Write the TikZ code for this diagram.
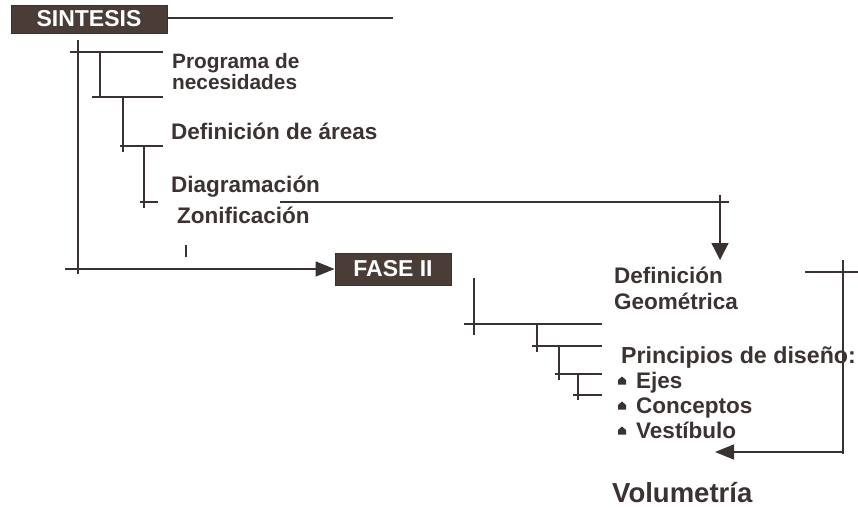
\documentclass[tikz,border=0pt]{standalone}
\usepackage{fontspec}
\usetikzlibrary{arrows.meta}
\newfontfamily\labfont{Liberation Sans}
\definecolor{lc}{HTML}{3A3131}
\definecolor{tc}{HTML}{3C3232}
\definecolor{bc}{HTML}{4A3C37}
\tikzset{
  ln/.style={draw=lc, line width=1.4pt},
  arr/.style={ln, -{Triangle[length=17pt,width=17pt]}},
  arrh/.style={ln, -{Triangle[length=19pt,width=15pt]}},
  lab/.style={inner sep=0pt, anchor=base west, text=tc, font=\labfont\bfseries\fontsize{22.5}{22.5}\selectfont},
  smalllab/.style={lab, font=\labfont\bfseries\fontsize{20.8}{20.8}\selectfont},
  widelab/.style={lab, font=\labfont\bfseries\fontsize{23.2}{23.2}\selectfont},
  biglab/.style={lab, font=\labfont\bfseries\fontsize{27.5}{27.5}\selectfont},
  darkbox/.style={fill=bc, draw=lc, line width=0.8pt, inner sep=0pt, text=white,
    font=\labfont\bfseries\fontsize{23}{23}\selectfont},
}
\newcommand\bulletmark[1]{\fill[lc] (#1) ++(0,-4.5) -- ++(4,3.5) -- ++(0,4.5) -- ++(-8,0) -- ++(0,-4.5) -- cycle;}
\begin{document}
\begin{tikzpicture}[x=1pt,y=-1pt]
\useasboundingbox[fill=white] (0,0) rectangle (858,507);
% boxes
\node[darkbox, minimum width=156pt, minimum height=28pt] (sint) at (89,19) {SINTESIS};
\node[darkbox, minimum width=116pt, minimum height=32pt] (fase) at (393,269) {FASE II};
% upper texts
\node[smalllab] (prog1) at (172,68) {Programa de};
\node[smalllab] (prog2) at (172,89) {necesidades};
\node[lab] (defa) at (171,139) {Definición de áreas};
\node[lab] (diag) at (171,192) {Diagramación};
\node[lab] (zoni) at (177,223) {Zonificación};
% lower texts
\node[lab] (defg1) at (614,283) {Definición};
\node[lab] (defg2) at (614,309) {Geométrica};
\node[widelab] (prin) at (621,363) {Principios de diseño:};
\node[lab] (ejes) at (636,388) {Ejes};
\node[lab] (conc) at (636,413) {Conceptos};
\node[lab] (vest) at (636,438) {Vestíbulo};
\node[biglab] (vol) at (612,502) {Volumetría};
\bulletmark{622,381}
\bulletmark{622,406}
\bulletmark{622,431}
% coordinates
\coordinate (sintEnd) at (393,18);
\coordinate (v1top) at (78,40);
\coordinate (v1bot) at (78,274);
\coordinate (arrStart) at (65,269);
\coordinate (longL) at (280,202);
\coordinate (longR) at (729,202);
\coordinate (downTop) at (720,195);
\coordinate (downTip) at (720,260);
\coordinate (brTop) at (843,260);
\coordinate (brBot) at (843,454);
\coordinate (brTip) at (715,452);
% line from SINTESIS
\draw[ln] (sint.east |- sintEnd) -- (sintEnd);
% upper tree
\draw[ln] (v1top) -- (v1bot);
\draw[ln] (70,52) -- (163,52);
\draw[ln] (100,52) -- (100,98);
\draw[ln] (92,97) -- (163,97);
\draw[ln] (123,97) -- (123,152);
\draw[ln] (120,146) -- (163,146);
\draw[ln] (144,146) -- (144,208);
\draw[ln] (140,202) -- (158,202);
\draw[ln] (186,245) -- (186,257);
\draw[ln] (longL) -- (longR);
\draw[arr] (downTop) -- (downTip);
\draw[arrh] (arrStart) -- (fase.west);
% lower tree
\draw[ln] (474,278) -- (474,335);
\draw[ln] (464,324) -- (602,324);
\draw[ln] (537,324) -- (537,352);
\draw[ln] (532,346) -- (602,346);
\draw[ln] (559,346) -- (559,380);
\draw[ln] (555,374) -- (602,374);
\draw[ln] (578,374) -- (578,400);
\draw[ln] (573,395) -- (602,395);
% right bracket
\draw[ln] (805,272) -- (858,272);
\draw[ln] (brTop) -- (brBot);
\draw[arrh] (brBot |- brTip) -- (brTip);
\end{tikzpicture}
\end{document}
